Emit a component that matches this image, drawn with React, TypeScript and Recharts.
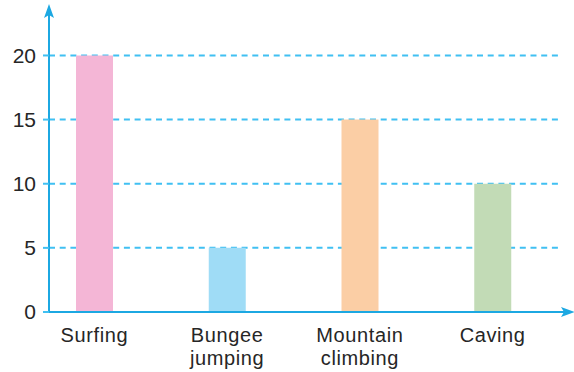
import React from "react";
import { BarChart, Bar, XAxis, YAxis, CartesianGrid, Cell } from "recharts";

const categories = ["Surfing", "Bungee jumping", "Mountain climbing", "Caving"];
const labelLines = [["Surfing"], ["Bungee", "jumping"], ["Mountain", "climbing"], ["Caving"]];
const counts = [20, 5, 15, 10];
const barColors = ["#f4b6d6", "#9fdcf6", "#fbcea5", "#c2dbb6"];
const yTicks = [0, 5, 10, 15, 20];

const AXIS = "#1ca8e2";
const GRID = "#40c0f2";
const TEXT = "#262626";
const FONT = '"Liberation Sans", Arial, sans-serif';

const W = 574;
const H = 372;

const data = categories.map((name, i) => ({ name, value: counts[i] }));

function CategoryTick({ x, y, payload }: any) {
  const lines = labelLines[payload.index ?? categories.indexOf(payload.value)] ?? [String(payload.value)];
  return (
    <g>
      {lines.map((l, k) => (
        <text key={k} x={x} y={y + 28 + k * 23} textAnchor="middle" fill={TEXT}
              fontSize={20} letterSpacing={0.6} fontFamily={FONT}>
          {l}
        </text>
      ))}
    </g>
  );
}

export default function App() {
  return (
    <div style={{ position: "absolute", left: 0, top: 0, width: W, height: H, background: "#fff" }}>
      <BarChart width={W} height={H} data={data}
                margin={{ top: 8, right: 12, left: 0, bottom: 0 }}>
        <CartesianGrid vertical={false} stroke={GRID} strokeWidth={2}
                       strokeDasharray="6 4.7" horizontalValues={yTicks.slice(1)} />
        <XAxis dataKey="name" height={60} tick={<CategoryTick />} tickLine={false} tickSize={0}
               padding={{ left: -21, right: 3 }} interval={0}
               axisLine={{ stroke: AXIS, strokeWidth: 2 }} />
        <YAxis width={49} domain={[0, 23.7]} ticks={yTicks} interval={0}
               tick={{ fill: TEXT, fontSize: 21, fontFamily: FONT }}
               tickSize={6} tickMargin={7}
               tickLine={{ stroke: GRID, strokeWidth: 2 }}
               axisLine={{ stroke: AXIS, strokeWidth: 2 }} />
        <Bar dataKey="value" barSize={37} isAnimationActive={false}>
          {data.map((d, i) => (
            <Cell key={d.name} fill={barColors[i]} />
          ))}
        </Bar>
      </BarChart>
      {/* axis arrowheads */}
      <svg width={W} height={H} style={{ position: "absolute", left: 0, top: 0, pointerEvents: "none" }}>
        <path d="M49 4 L54 18 L49 15 L44 18 Z" fill={AXIS} />
        <line x1={560} y1={312} x2={570} y2={312} stroke={AXIS} strokeWidth={2} />
        <path d="M575 312 L561 307 L564 312 L561 317 Z" fill={AXIS} />
      </svg>
    </div>
  );
}
